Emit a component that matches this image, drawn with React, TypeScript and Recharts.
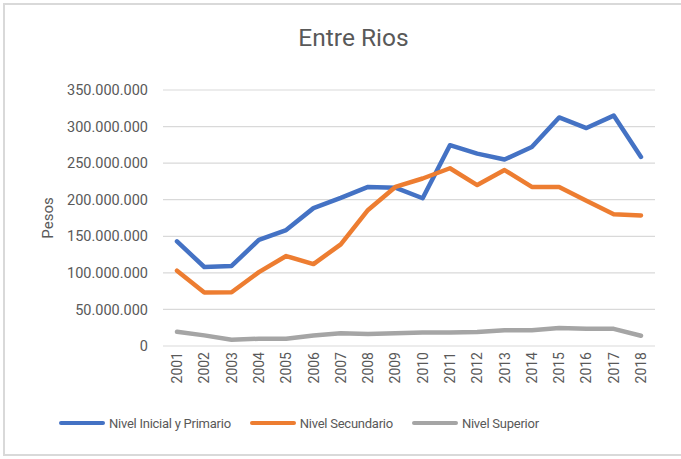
import React from 'react';
import { LineChart, Line, XAxis, YAxis, CartesianGrid, Legend } from 'recharts';

const years = ['2001','2002','2003','2004','2005','2006','2007','2008','2009','2010','2011','2012','2013','2014','2015','2016','2017','2018'];
const inicialPrimario = [143000000,108000000,109500000,145000000,158500000,188500000,202500000,217500000,216500000,202000000,274500000,263000000,255000000,272000000,312500000,298000000,315000000,258500000];
const secundario = [103000000,73000000,73500000,101000000,123000000,112000000,139000000,186000000,217500000,229000000,243000000,220000000,240500000,217500000,217500000,198500000,180000000,178500000];
const superior = [19500000,14500000,8500000,10000000,10000000,14500000,17500000,16500000,17500000,18500000,18500000,19000000,21500000,21500000,24500000,23500000,23500000,14000000];
const yTicks = [0,50000000,100000000,150000000,200000000,250000000,300000000,350000000];

const seriesNames = ['Nivel Inicial y Primario', 'Nivel Secundario', 'Nivel Superior'];
const colors = ['#4472C4', '#ED7D31', '#A5A5A5'];

const data = years.map((y, i) => ({
  year: y,
  a: inicialPrimario[i],
  b: secundario[i],
  c: superior[i],
}));

const FONT = 'Roboto';
const TEXT = '#595959';

const fmt = (v: number) => String(v).replace(/\B(?=(\d{3})+(?!\d))/g, '.');

const XTick = (props: any) => {
  const { x, y, payload } = props;
  return (
    <g transform={`translate(${x},${y})`}>
      <text transform="rotate(-90)" x={-6} y={0} dy="0.36em" textAnchor="end" fill={TEXT} fontSize={14} fontFamily={FONT}>
        {payload.value}
      </text>
    </g>
  );
};

const LegendContent = () => (
  <div style={{ height: 20, display: 'flex', alignItems: 'center', paddingLeft: 59, fontFamily: FONT, fontSize: 13, letterSpacing: -0.25, color: TEXT }}>
    {seriesNames.map((n, i) => (
      <div key={n} style={{ display: 'flex', alignItems: 'center', marginRight: 19 }}>
        <div style={{ width: 46, height: 4.5, borderRadius: 2.5, background: colors[i], marginRight: 4 }} />
        <span>{n}</span>
      </div>
    ))}
  </div>
);

const PesosLabel = (props: any) => {
  const { viewBox } = props;
  const cx = viewBox.x + 48;
  const cy = viewBox.y + viewBox.height / 2;
  return (
    <text x={cx} y={cy} transform={`rotate(-90, ${cx}, ${cy})`} textAnchor="middle" dominantBaseline="central" fill={TEXT} fontSize={15} fontFamily={FONT}>
      Pesos
    </text>
  );
};

export default function App() {
  return (
    <div style={{ position: 'absolute', left: 0, top: 0, width: 681, height: 459, background: '#fff', overflow: 'hidden' }}>
      <div style={{ position: 'absolute', left: 3, top: 3, width: 690, height: 453, border: '2px solid #D9D9D9', boxSizing: 'border-box' }} />
      <div style={{ position: 'absolute', left: 0, top: 26, width: 707, textAlign: 'center', fontFamily: FONT, fontSize: 24.5, lineHeight: '24.5px', color: TEXT }}>
        Entre Rios
      </div>
      <div style={{ position: 'absolute', left: 0, top: 0 }}>
        <LineChart width={681} height={459} data={data} margin={{ top: 90, right: 26, bottom: 26, left: 0 }}>
          <CartesianGrid vertical={false} stroke="#D9D9D9" strokeWidth={1.2} />
          <XAxis
            dataKey="year"
            axisLine={false}
            tickLine={false}
            tickSize={0}
            tickMargin={0}
            height={67}
            padding={{ left: 14, right: 14 }}
            interval={0}
            tick={<XTick />}
          />
          <YAxis
            width={163}
            domain={[0, 350000000]}
            ticks={yTicks}
            axisLine={false}
            tickLine={false}
            tickSize={0}
            tickMargin={15}
            tickFormatter={fmt}
            tick={{ fill: TEXT, fontSize: 14.5, fontFamily: FONT }}
            label={<PesosLabel />}
          />
          <Legend verticalAlign="bottom" content={<LegendContent />} wrapperStyle={{ left: 0, width: 681 }} />
          <Line type="linear" dataKey="a" name={seriesNames[0]} stroke={colors[0]} strokeWidth={4.5} dot={false} activeDot={false} strokeLinecap="round" strokeLinejoin="round" isAnimationActive={false} />
          <Line type="linear" dataKey="b" name={seriesNames[1]} stroke={colors[1]} strokeWidth={4.5} dot={false} activeDot={false} strokeLinecap="round" strokeLinejoin="round" isAnimationActive={false} />
          <Line type="linear" dataKey="c" name={seriesNames[2]} stroke={colors[2]} strokeWidth={4.5} dot={false} activeDot={false} strokeLinecap="round" strokeLinejoin="round" isAnimationActive={false} />
        </LineChart>
      </div>
    </div>
  );
}
